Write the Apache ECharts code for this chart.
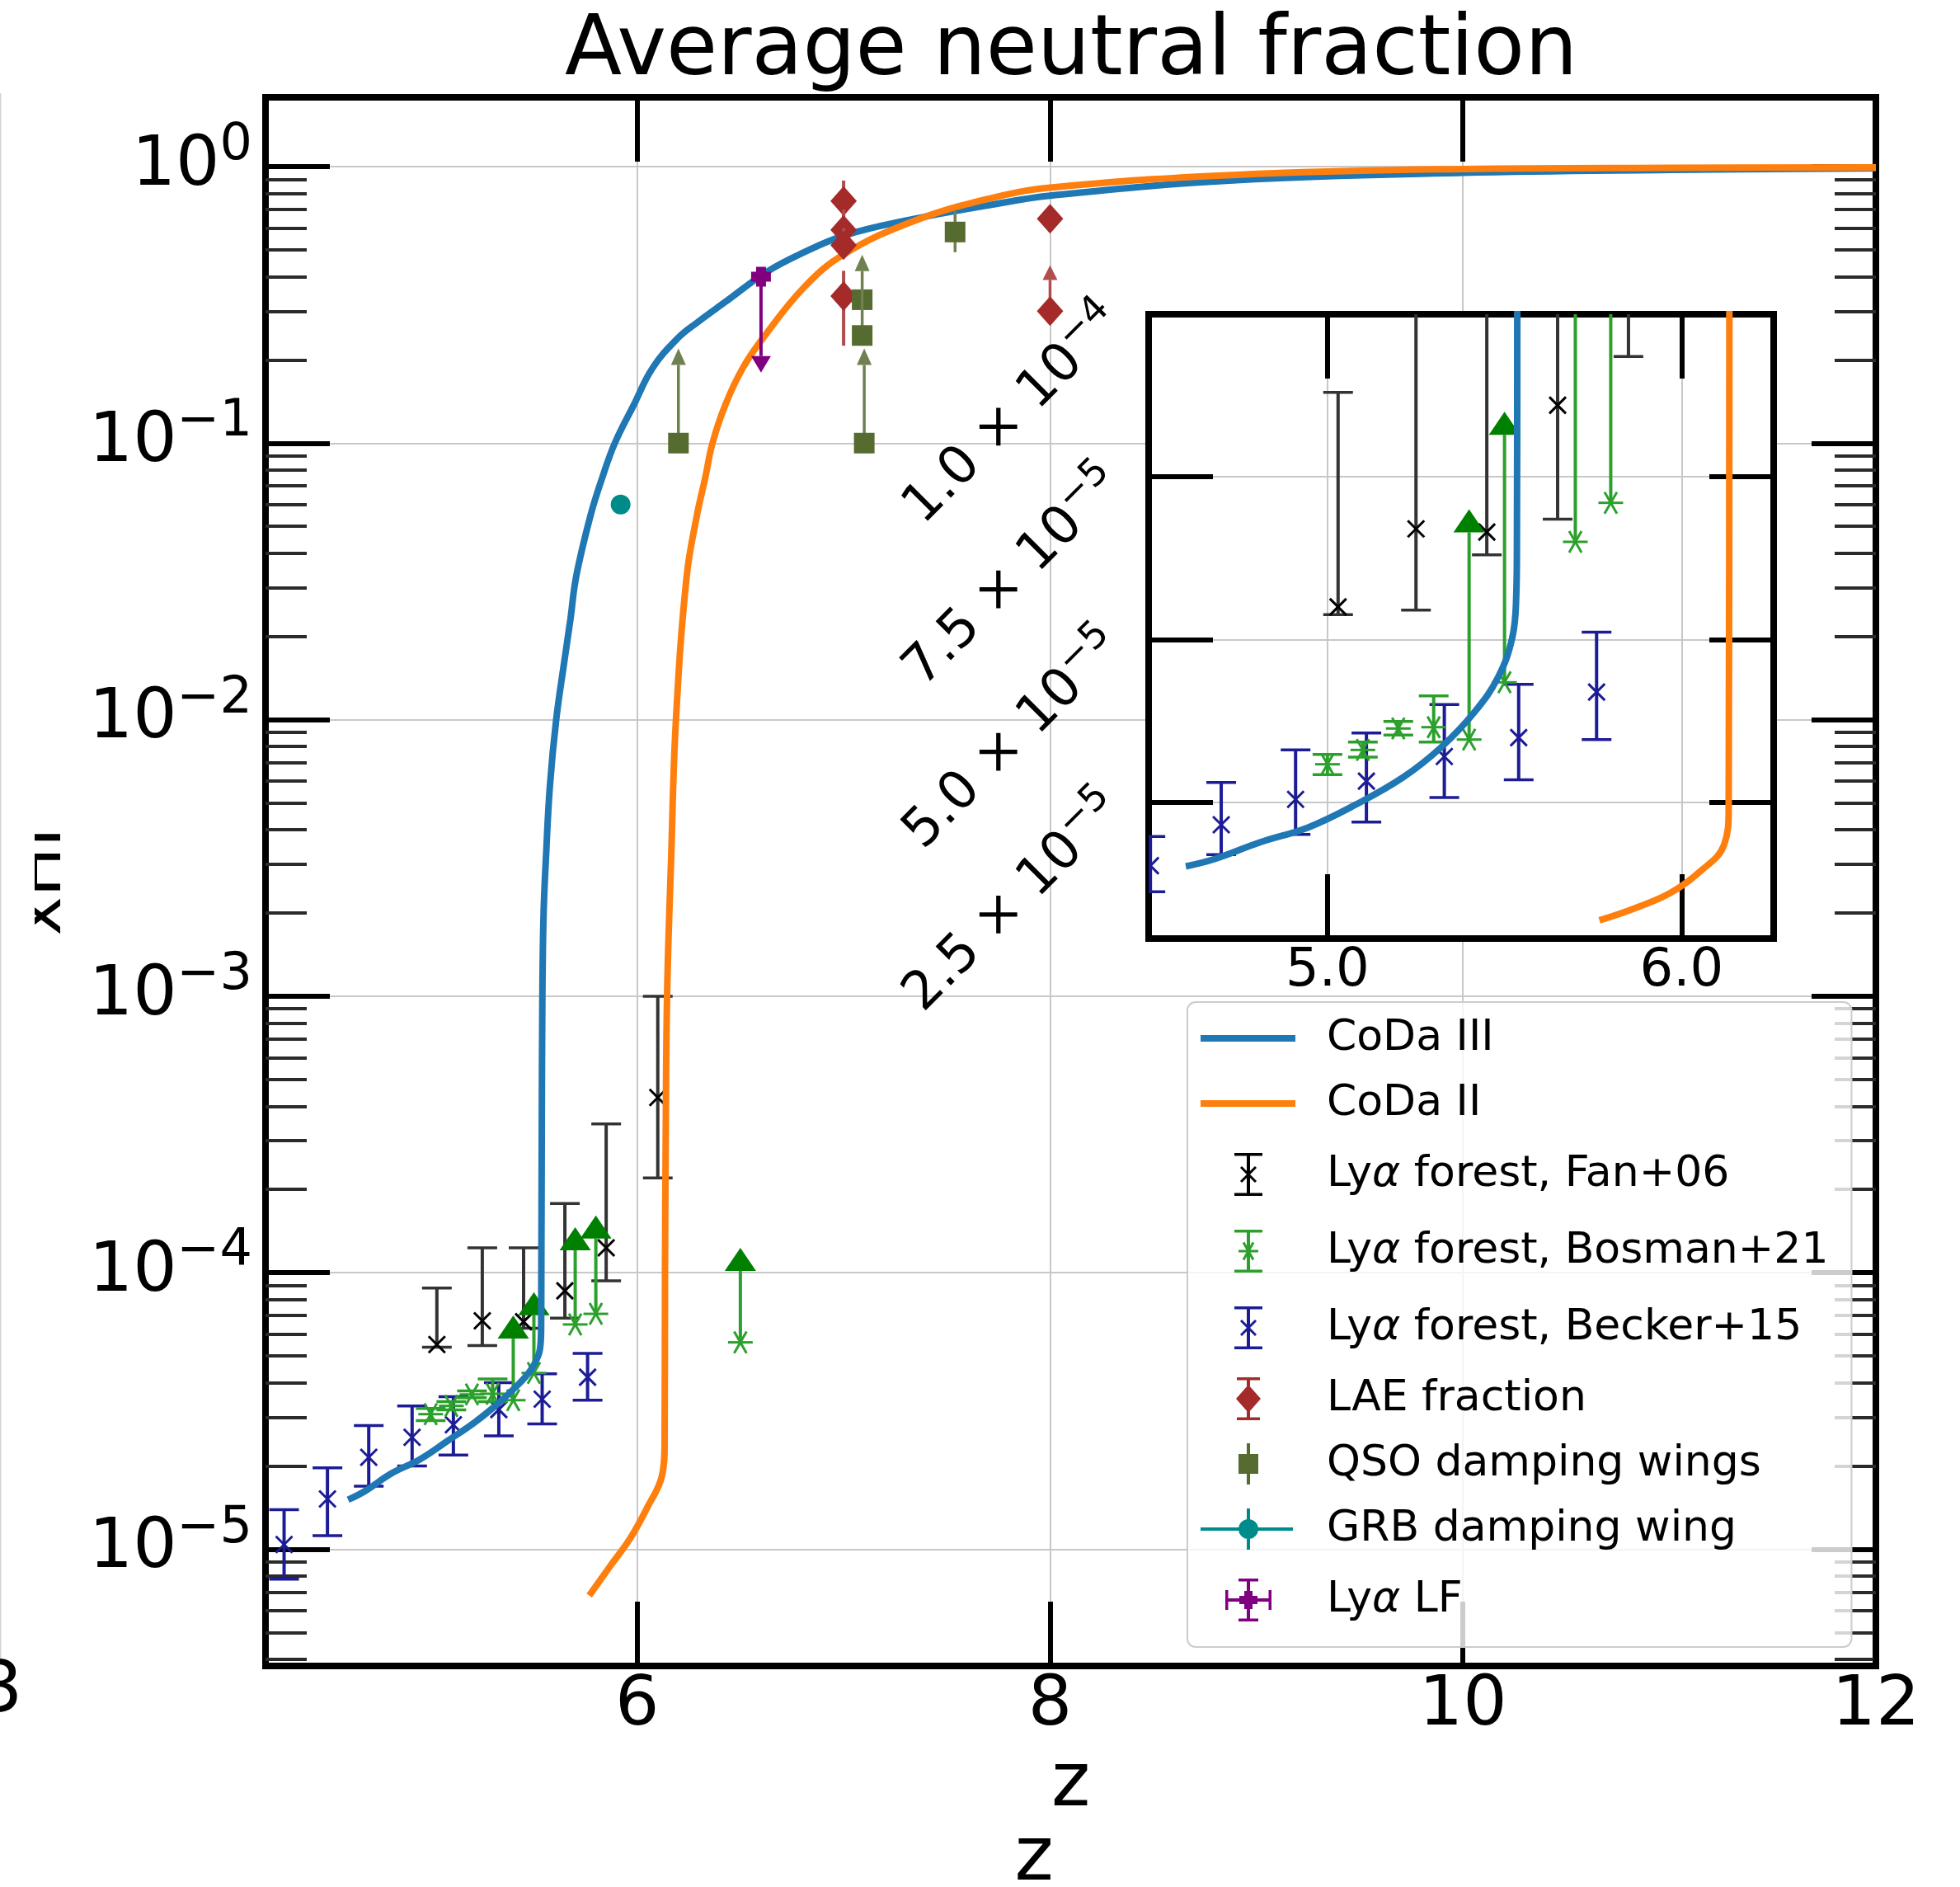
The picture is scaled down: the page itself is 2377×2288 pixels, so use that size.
<!DOCTYPE html>
<html>
<head>
<meta charset="utf-8">
<title>Average neutral fraction</title>
<script src="https://cdn.jsdelivr.net/npm/echarts@6.0.0/dist/echarts.min.js"></script>
<style>
  html, body { margin: 0; padding: 0; background: #ffffff; }
  #chart { width: 2377px; height: 2288px; }
</style>
</head>
<body>
<div id="chart"></div>
<script>
// ---------------- values ----------------
// Volume-averaged neutral fraction of the two simulations: [z, x_HI]
const codaIII = [
  [4.600, 1.51e-5], [4.680, 1.62e-5], [4.810, 1.88e-5], [4.946, 2.11e-5], [5.080, 2.46e-5],
  [5.214, 2.88e-5], [5.321, 3.34e-5], [5.415, 3.88e-5], [5.482, 4.42e-5], [5.522, 5.03e-5],
  [5.533, 5.65e-5], [5.535, 6.4e-5], [5.536, 1.0e-4], [5.538, 3.0e-4], [5.541, 1.0e-3],
  [5.547, 2.0e-3], [5.559, 3.24e-3], [5.577, 5.7e-3], [5.608, 1.0e-2], [5.647, 1.62e-2],
  [5.677, 2.31e-2], [5.705, 3.3e-2], [5.775, 5.5e-2], [5.830, 7.46e-2],
  [5.892, 0.100], [5.984, 0.1375], [6.075, 0.187], [6.198, 0.240], [6.288, 0.272],
  [6.427, 0.324], [6.625, 0.415], [6.793, 0.484], [7.006, 0.564], [7.312, 0.640],
  [7.705, 0.725], [8.000, 0.785], [8.903, 0.893], [10.000, 0.949], [11.000, 0.972], [12.000, 0.986]
];
const codaII = [
  [5.768, 6.8e-6], [5.870, 8.7e-6], [5.968, 1.10e-5], [6.050, 1.42e-5], [6.120, 1.84e-5],
  [6.133, 2.4e-5], [6.135, 1.0e-4], [6.138, 2.7e-4], [6.145, 1.0e-3], [6.165, 3.2e-3],
  [6.188, 1.0e-2], [6.240, 3.3e-2], [6.290, 5.5e-2], [6.330, 7.5e-2], [6.365, 0.100],
  [6.427, 0.1375], [6.512, 0.187], [6.610, 0.240], [6.810, 0.367], [7.006, 0.484], [7.343, 0.637],
  [7.705, 0.766], [8.000, 0.839], [8.903, 0.934], [10.000, 0.980], [11.000, 0.990], [12.000, 0.993]
];
// Lyα forest measurements: [z, x_HI, lower end, upper end]
const fan06 = [
  [5.03, 5.50e-5, 5.38e-5, 8.80e-5],
  [5.25, 6.70e-5, 5.45e-5, 1.23e-4],
  [5.45, 6.65e-5, 6.30e-5, 1.23e-4],
  [5.65, 8.60e-5, 6.85e-5, 1.78e-4],
  [5.85, 1.23e-4, 9.35e-5, 3.45e-4],
  [6.10, 4.30e-4, 2.20e-4, 1.00e-3]
];
const bosman21 = [
  [5.00, 3.08e-5, 2.92e-5, 3.23e-5],
  [5.10, 3.30e-5, 3.19e-5, 3.42e-5],
  [5.20, 3.63e-5, 3.53e-5, 3.74e-5],
  [5.30, 3.65e-5, 3.42e-5, 4.13e-5]
];
// lower limits: [z, x_HI, arrow tip]
const bosman21Lower = [
  [5.40, 3.46e-5, 7.0e-5],
  [5.50, 4.34e-5, 8.5e-5],
  [5.70, 6.50e-5, 1.46e-4],
  [5.80, 7.10e-5, 1.61e-4],
  [6.50, 5.60e-5, 1.23e-4]
];
const becker15 = [
  [4.29, 1.04e-5, 7.80e-6, 1.39e-5],
  [4.50, 1.52e-5, 1.12e-5, 1.97e-5],
  [4.70, 2.15e-5, 1.69e-5, 2.80e-5],
  [4.91, 2.54e-5, 2.00e-5, 3.30e-5],
  [5.11, 2.82e-5, 2.19e-5, 3.56e-5],
  [5.33, 3.20e-5, 2.57e-5, 4.00e-5],
  [5.54, 3.49e-5, 2.84e-5, 4.31e-5],
  [5.76, 4.19e-5, 3.46e-5, 5.11e-5]
];
const laeFraction = [
  [7.0, 0.75, 0.60, 0.89],
  [7.0, 0.59, 0.50, 0.70],
  [7.0, 0.52, 0.47, 0.60],
  [7.0, 0.34, 0.225, 0.42],
  [8.0, 0.647, 0.647, 0.647]
];
const laeLower = [[8.0, 0.30, 0.44]];
const qsoWings = [
  [7.09, 0.33, 0.33, 0.33],
  [7.54, 0.58, 0.49, 0.69]
];
const qsoLower = [
  [6.20, 0.100, 0.22],
  [7.10, 0.100, 0.22],
  [7.09, 0.245, 0.48]
];
const grbWing = [[5.92, 0.060]];
// upper limit: [z, x_HI, arrow tip]
const lyaLFUpper = [[6.60, 0.40, 0.18]];

// ---------------- ticks ----------------
const zTicks = [6, 8, 10, 12];
const zTickLabels = ['6', '8', '10', '12'];
const xhiTicks = [1e-5, 1e-4, 1e-3, 1e-2, 1e-1, 1];
const xhiTickExponents = ['\u22125', '\u22124', '\u22123', '\u22122', '\u22121', '0'];
const insetZTicks = [5, 6];
const insetZTickLabels = ['5.0', '6.0'];
const insetXhiTicks = [2.5e-5, 5e-5, 7.5e-5, 1e-4];
const insetXhiTickLabels = [['2.5 \u00d7 10', '\u22125'], ['5.0 \u00d7 10', '\u22125'], ['7.5 \u00d7 10', '\u22125'], ['1.0 \u00d7 10', '\u22124']];

// ---------------- layout & style ----------------
const FONT = 'DejaVu Sans';
const Z_MIN = 4.2, Z_MAX = 12;
const XHI_MIN = 3.784e-6, XHI_MAX = 1.78;
const IN_Z_MIN = 4.495, IN_Z_MAX = 6.26;
const IN_XHI_MIN = 4e-6, IN_XHI_MAX = 1e-4;

const xhiMinorTicks = [];
for (let e = -6; e <= 0; e++) {
  for (let m = 2; m <= 9; m++) {
    const v = m * Math.pow(10, e);
    if (v >= XHI_MIN && v <= XHI_MAX) xhiMinorTicks.push(v);
  }
}

const C = {
  codaIII: '#1f77b4', codaII: '#ff7f0e',
  fan: '#000000', fanBar: '#333333',
  bosman: '#2ca02c', bosmanHead: '#008000',
  becker: '#1c1c96',
  lae: '#a52a2a', laeBar: '#b14d4d',
  qso: '#556b2f', qsoBar: '#6f8150',
  grb: '#008b8b', lf: '#800080',
  grid: '#c8c8c8'
};

function nearestIndex(list, v, logScale) {
  let best = 0, bd = Infinity;
  list.forEach((t, i) => {
    const d = logScale ? Math.abs(Math.log10(t) - Math.log10(v)) : Math.abs(t - v);
    if (d < bd) { bd = d; best = i; }
  });
  return best;
}

// ---------------- mark drawing ----------------
function seg(x1, y1, x2, y2, color, w) {
  return { type: 'line', shape: { x1, y1, x2, y2 }, style: { stroke: color, lineWidth: w } };
}
function markerShapes(kind, x, y, color) {
  if (kind === 'x') {
    const r = 10;
    return [seg(x - r, y - r, x + r, y + r, color, 3), seg(x - r, y + r, x + r, y - r, color, 3)];
  }
  if (kind === 'star') {
    const r = 15;
    return [seg(x - r, y, x + r, y, color, 3),
            seg(x - r / 2, y - r * 0.87, x + r / 2, y + r * 0.87, color, 3),
            seg(x - r / 2, y + r * 0.87, x + r / 2, y - r * 0.87, color, 3)];
  }
  if (kind === 'diamond') {
    return [{ type: 'polygon', shape: { points: [[x, y - 18], [x + 16, y], [x, y + 18], [x - 16, y]] }, style: { fill: color } }];
  }
  if (kind === 'square') {
    return [{ type: 'rect', shape: { x: x - 12.5, y: y - 12.5, width: 25, height: 25 }, style: { fill: color } }];
  }
  if (kind === 'circle') {
    return [{ type: 'circle', shape: { cx: x, cy: y, r: 12 }, style: { fill: color } }];
  }
  if (kind === 'plus') {
    const a = 12, b = 6;
    return [{ type: 'polygon', shape: { points: [
      [x - b, y - a], [x + b, y - a], [x + b, y - b], [x + a, y - b], [x + a, y + b], [x + b, y + b],
      [x + b, y + a], [x - b, y + a], [x - b, y + b], [x - a, y + b], [x - a, y - b], [x - b, y - b]] },
      style: { fill: color } }];
  }
  return [];
}

// two-sided error bars: rows [z, v, lo, hi]
function errorBars(name, rows, o, ax) {
  return {
    type: 'custom', name, data: rows, xAxisIndex: ax.x, yAxisIndex: ax.y,
    z: ax.z + (o.dz || 0), clip: true, silent: true,
    renderItem(params, api) {
      const z = api.value(0), v = api.value(1), lo = api.value(2), hi = api.value(3);
      const c = api.coord([z, v]), a = api.coord([z, lo]), b = api.coord([z, hi]);
      const ch = [];
      if (Math.abs(a[1] - b[1]) > 1) {
        ch.push(seg(a[0], a[1], b[0], b[1], o.bar, o.barW));
        if (o.cap) {
          ch.push(seg(a[0] - o.cap, a[1], a[0] + o.cap, a[1], o.bar, 3.5));
          ch.push(seg(b[0] - o.cap, b[1], b[0] + o.cap, b[1], o.bar, 3.5));
        }
      }
      ch.push(...markerShapes(o.marker, c[0], c[1], o.color));
      return { type: 'group', children: ch };
    }
  };
}

// one-sided limits: rows [z, v, tip]
function limitArrows(name, rows, o, ax) {
  return {
    type: 'custom', name, data: rows, xAxisIndex: ax.x, yAxisIndex: ax.y,
    z: ax.z + (o.dz || 0), clip: true, silent: true,
    renderItem(params, api) {
      const z = api.value(0), v = api.value(1), tip = api.value(2);
      const c = api.coord([z, v]), e = api.coord([z, tip]);
      const dir = e[1] < c[1] ? 1 : -1;           // 1: arrow points up
      const baseY = e[1] + dir * o.headH;
      const ch = [
        seg(c[0], c[1], e[0], baseY, o.bar, o.barW),
        { type: 'polygon', shape: { points: [[e[0], e[1]], [e[0] - o.headW, baseY], [e[0] + o.headW, baseY]] }, style: { fill: o.head } }
      ];
      ch.push(...markerShapes(o.marker, c[0], c[1], o.color));
      return { type: 'group', children: ch };
    }
  };
}

function curve(name, data, color, ax) {
  return {
    type: 'line', name, data, xAxisIndex: ax.x, yAxisIndex: ax.y, z: ax.z + 1,
    showSymbol: false, symbol: 'none', clip: true, silent: true, smooth: 0.4,
    lineStyle: { color, width: 8 }, itemStyle: { color }
  };
}

const MAIN = { x: 0, y: 0, z: 2 };
const INSET = { x: 2, y: 4, z: 7 };

const N = {
  coda3: 'CoDa III', coda2: 'CoDa II',
  fan: 'Ly\u03b1 forest, Fan+06', bosman: 'Ly\u03b1 forest, Bosman+21', becker: 'Ly\u03b1 forest, Becker+15',
  lae: 'LAE fraction', qso: 'QSO damping wings', grb: 'GRB damping wing', lf: 'Ly\u03b1 LF'
};

function forestSeries(ax) {
  return [
    errorBars(N.fan, fan06, { bar: C.fanBar, barW: 4, cap: 18, marker: 'x', color: C.fan }, ax),
    errorBars(N.becker, becker15, { bar: C.becker, barW: 4, cap: 18, marker: 'x', color: C.becker }, ax),
    errorBars(N.bosman, bosman21, { bar: C.bosman, barW: 4, cap: 18, marker: 'star', color: C.bosman }, ax),
    limitArrows(N.bosman, bosman21Lower, { bar: C.bosman, barW: 4, head: C.bosmanHead, headW: 19, headH: 28, marker: 'star', color: C.bosman }, ax),
    curve(N.coda3, codaIII, C.codaIII, ax),
    curve(N.coda2, codaII, C.codaII, ax)
  ];
}

const series = [
  ...forestSeries(MAIN),
  errorBars(N.lae, laeFraction, { bar: C.laeBar, barW: 4, cap: 0, marker: 'diamond', color: C.lae, dz: 2 }, MAIN),
  limitArrows(N.lae, laeLower, { bar: C.laeBar, barW: 3.5, head: C.laeBar, headW: 9, headH: 18, marker: 'diamond', color: C.lae, dz: 2 }, MAIN),
  errorBars(N.qso, qsoWings, { bar: C.qsoBar, barW: 3.5, cap: 0, marker: 'square', color: C.qso, dz: 2 }, MAIN),
  limitArrows(N.qso, qsoLower, { bar: C.qsoBar, barW: 3.5, head: C.qsoBar, headW: 9, headH: 20, marker: 'square', color: C.qso, dz: 2 }, MAIN),
  {
    type: 'custom', name: N.grb, data: grbWing, xAxisIndex: 0, yAxisIndex: 0, z: 4, clip: true, silent: true,
    renderItem(params, api) {
      const c = api.coord([api.value(0), api.value(1)]);
      return { type: 'group', children: markerShapes('circle', c[0], c[1], C.grb) };
    }
  },
  limitArrows(N.lf, lyaLFUpper, { bar: C.lf, barW: 4, head: C.lf, headW: 12, headH: 20, marker: 'plus', color: C.lf, dz: 2 }, MAIN),
  ...forestSeries(INSET)
];

// ---------------- legend icons (148 x 56 box) ----------------
function poly(pts) {
  let a = 0;
  for (let i = 0; i < pts.length; i++) {
    const p = pts[i], q = pts[(i + 1) % pts.length];
    a += p[0] * q[1] - q[0] * p[1];
  }
  if (a < 0) pts = pts.slice().reverse();
  return 'M' + pts.map(p => p[0].toFixed(2) + ' ' + p[1].toFixed(2)).join('L') + 'Z';
}
function rectP(x, y, w, h) { return poly([[x, y], [x + w, y], [x + w, y + h], [x, y + h]]); }
function barP(x1, y1, x2, y2, w) {
  const dx = x2 - x1, dy = y2 - y1, L = Math.hypot(dx, dy), nx = -dy / L * w / 2, ny = dx / L * w / 2;
  return poly([[x1 + nx, y1 + ny], [x2 + nx, y2 + ny], [x2 - nx, y2 - ny], [x1 - nx, y1 - ny]]);
}
function circleP(cx, cy, r) {
  return `M${cx + r} ${cy}A${r} ${r} 0 1 1 ${cx - r} ${cy}A${r} ${r} 0 1 1 ${cx + r} ${cy}Z`;
}
const ICON_W = 148, ICON_H = 56;
const IX = 58, IY = ICON_H / 2;
const BOX = `M0 0L0.01 0L0 0.01Z M${ICON_W} ${ICON_H}L${ICON_W - 0.01} ${ICON_H}L${ICON_W} ${ICON_H - 0.01}Z `;
const vBar = (h, cap) => rectP(IX - 2, IY - h, 4, 2 * h) +
  (cap ? rectP(IX - cap, IY - h, 2 * cap, 3.5) + rectP(IX - cap, IY + h - 3.5, 2 * cap, 3.5) : '');
const xGlyph = r => barP(IX - r, IY - r, IX + r, IY + r, 3) + barP(IX - r, IY + r, IX + r, IY - r, 3);
const starGlyph = r => barP(IX - r, IY, IX + r, IY, 3) + barP(IX - r / 2, IY - r * 0.87, IX + r / 2, IY + r * 0.87, 3) +
  barP(IX - r / 2, IY + r * 0.87, IX + r / 2, IY - r * 0.87, 3);
const icons = {
  line: BOX + rectP(0, IY - 4, 115, 8),
  fan: BOX + vBar(26, 17) + xGlyph(9),
  bosman: BOX + vBar(26, 17) + starGlyph(12),
  becker: BOX + vBar(26, 17) + xGlyph(9),
  lae: BOX + vBar(26, 14) + poly([[IX, IY - 17], [IX + 15, IY], [IX, IY + 17], [IX - 15, IY]]),
  qso: BOX + vBar(25, 0) + rectP(IX - 12, IY - 12, 24, 24),
  grb: BOX + rectP(0, IY - 2, 112, 4) + vBar(25, 0) + circleP(IX, IY, 12),
  lf: BOX + rectP(IX - 28, IY - 2, 56, 4) + rectP(IX - 28, IY - 12, 3.5, 24) + rectP(IX + 24.5, IY - 12, 3.5, 24) +
      vBar(26, 12) + poly([[IX - 5, IY - 11], [IX + 5, IY - 11], [IX + 5, IY - 5], [IX + 11, IY - 5], [IX + 11, IY + 5], [IX + 5, IY + 5],
                           [IX + 5, IY + 11], [IX - 5, IY + 11], [IX - 5, IY + 5], [IX - 11, IY + 5], [IX - 11, IY - 5], [IX - 5, IY - 5]])
};
const legendItem = (name, icon, color) => ({ name, icon: 'path://' + icon, itemStyle: { color, borderColor: color, borderWidth: 0 } });

// ---------------- axes ----------------
const spine = { show: true, onZero: false, lineStyle: { color: '#000', width: 8, cap: 'square' } };
const majorTick = (vals) => ({ show: true, inside: true, length: 78, customValues: vals, lineStyle: { color: '#000', width: 6 } });
const minorTick = (vals) => ({ show: true, inside: true, length: 50, customValues: vals, lineStyle: { color: '#2a2a2a', width: 4 } });
const gridLine = { show: true, lineStyle: { color: C.grid, width: 2 } };
const noLabel = { show: false };

const xAxis = [
  { // main, bottom
    type: 'value', gridIndex: 0, position: 'bottom', min: Z_MIN, max: Z_MAX, z: 0,
    axisLine: spine, axisTick: majorTick(zTicks), splitLine: gridLine,
    axisLabel: { show: true, customValues: zTicks, margin: 7, fontSize: 84, fontFamily: FONT, color: '#000',
      formatter: v => zTickLabels[nearestIndex(zTicks, v, false)] },
    name: 'z', nameLocation: 'middle', nameGap: 101,
    nameTextStyle: { fontSize: 90, fontFamily: FONT, color: '#000' }
  },
  { // main, top
    type: 'value', gridIndex: 0, position: 'top', min: Z_MIN, max: Z_MAX, z: 0,
    axisLine: spine, axisTick: majorTick(zTicks), splitLine: { show: false }, axisLabel: noLabel
  },
  { // inset, bottom
    type: 'value', gridIndex: 1, position: 'bottom', min: IN_Z_MIN, max: IN_Z_MAX, z: 6,
    axisLine: spine, axisTick: majorTick(insetZTicks), splitLine: gridLine,
    axisLabel: { show: true, customValues: insetZTicks, margin: 8, fontSize: 64, fontFamily: FONT, color: '#000',
      formatter: v => insetZTickLabels[nearestIndex(insetZTicks, v, false)] }
  },
  { // inset, top
    type: 'value', gridIndex: 1, position: 'top', min: IN_Z_MIN, max: IN_Z_MAX, z: 6,
    axisLine: spine, axisTick: majorTick(insetZTicks), splitLine: { show: false }, axisLabel: noLabel
  }
];

const yAxis = [
  { // main, left, decades
    type: 'log', logBase: 10, gridIndex: 0, position: 'left', min: XHI_MIN, max: XHI_MAX, z: 0,
    axisLine: spine, axisTick: majorTick(xhiTicks), splitLine: gridLine,
    axisLabel: {
      show: true, customValues: xhiTicks, margin: 16, color: '#000',
      formatter: v => '{m|10}{e|' + xhiTickExponents[nearestIndex(xhiTicks, v, true)] + '}',
      rich: {
        m: { fontSize: 84, lineHeight: 84, fontFamily: FONT, color: '#000' },
        e: { fontSize: 62, lineHeight: 62, fontFamily: FONT, color: '#000', padding: [0, 0, 50, 0] }
      }
    },
    name: 'xHI', nameLocation: 'middle', nameGap: 230,
    nameTextStyle: { fontSize: 80, lineHeight: 80, fontFamily: FONT, color: '#000' }
  },
  { // main, left, minor
    type: 'log', logBase: 10, gridIndex: 0, position: 'left', min: XHI_MIN, max: XHI_MAX, z: 0,
    axisLine: { show: false }, axisTick: minorTick(xhiMinorTicks), splitLine: { show: false }, axisLabel: noLabel
  },
  { // main, right, decades
    type: 'log', logBase: 10, gridIndex: 0, position: 'right', min: XHI_MIN, max: XHI_MAX, z: 0,
    axisLine: spine, axisTick: majorTick(xhiTicks), splitLine: { show: false }, axisLabel: noLabel
  },
  { // main, right, minor
    type: 'log', logBase: 10, gridIndex: 0, position: 'right', min: XHI_MIN, max: XHI_MAX, z: 0,
    axisLine: { show: false }, axisTick: minorTick(xhiMinorTicks), splitLine: { show: false }, axisLabel: noLabel
  },
  { // inset, left
    type: 'value', gridIndex: 1, position: 'left', min: IN_XHI_MIN, max: IN_XHI_MAX, z: 6,
    axisLine: spine, axisTick: majorTick(insetXhiTicks), splitLine: gridLine,
    axisLabel: {
      show: true, customValues: insetXhiTicks, rotate: 45, margin: 41, color: '#000',
      formatter: v => {
        const l = insetXhiTickLabels[nearestIndex(insetXhiTicks, v, false)];
        return '{m|' + l[0] + '}{e|' + l[1] + '}';
      },
      rich: {
        m: { fontSize: 64, lineHeight: 64, fontFamily: FONT, color: '#000' },
        e: { fontSize: 46, lineHeight: 46, fontFamily: FONT, color: '#000', padding: [0, 0, 38, 0] }
      }
    }
  },
  { // inset, right
    type: 'value', gridIndex: 1, position: 'right', min: IN_XHI_MIN, max: IN_XHI_MAX, z: 6,
    axisLine: spine, axisTick: majorTick(insetXhiTicks), splitLine: { show: false }, axisLabel: noLabel
  }
];

const option = {
  animation: false,
  backgroundColor: '#ffffff',
  textStyle: { fontFamily: FONT },
  title: {
    text: 'Average neutral fraction', left: 685, top: 13, padding: 0,
    textStyle: { fontSize: 101, fontWeight: 'normal', fontFamily: FONT, color: '#000' }
  },
  grid: [
    { left: 322, top: 118, width: 1953, height: 1902, show: false },
    { left: 1393, top: 381, width: 758, height: 757, show: true, backgroundColor: '#ffffff', borderWidth: 0, z: 5 }
  ],
  xAxis, yAxis, series,
  legend: {
    orient: 'vertical', left: 1440, top: 1215, z: 10,
    padding: [16, 28, 22, 16], itemWidth: ICON_W, itemHeight: ICON_H, itemGap: 23,
    backgroundColor: 'rgba(255,255,255,0.8)', borderColor: '#cccccc', borderWidth: 2, borderRadius: 10,
    selectedMode: false,
    textStyle: {
      fontSize: 52, lineHeight: ICON_H, fontFamily: FONT, color: '#000',
      rich: { a: { fontSize: 52, lineHeight: 70, fontFamily: FONT, fontStyle: 'italic', color: '#000' } }
    },
    formatter: name => name.replace('\u03b1', '{a|\u03b1}'),
    data: [
      legendItem(N.coda3, icons.line, C.codaIII),
      legendItem(N.coda2, icons.line, C.codaII),
      legendItem(N.fan, icons.fan, C.fan),
      legendItem(N.bosman, icons.bosman, C.bosman),
      legendItem(N.becker, icons.becker, C.becker),
      legendItem(N.lae, icons.lae, C.lae),
      legendItem(N.qso, icons.qso, C.qso),
      legendItem(N.grb, icons.grb, C.grb),
      legendItem(N.lf, icons.lf, C.lf)
    ]
  },
  graphic: [
    // frame remnants of the underlying full-width axes
    { type: 'line', silent: true, z: 0, shape: { x1: 0.5, y1: 113, x2: 0.5, y2: 2013 }, style: { stroke: '#d4d4d4', lineWidth: 2 } },
    { type: 'text', silent: true, x: 0, y: 2010, style: { text: '3', fontSize: 86, fontFamily: FONT, fill: '#000', align: 'center', verticalAlign: 'top' } },
    { type: 'text', silent: true, x: 1254, y: 2211, style: { text: 'z', fontSize: 90, fontFamily: FONT, fill: '#000', align: 'center', verticalAlign: 'top' } },
    // the y label is cut off at the left margin
    { type: 'rect', silent: true, z: 1, shape: { x: 2, y: 980, width: 40, height: 190 }, style: { fill: '#ffffff' } }
  ]
};

const chart = echarts.init(document.getElementById('chart'), null, { renderer: 'canvas' });
chart.setOption(option);
</script>
</body>
</html>
